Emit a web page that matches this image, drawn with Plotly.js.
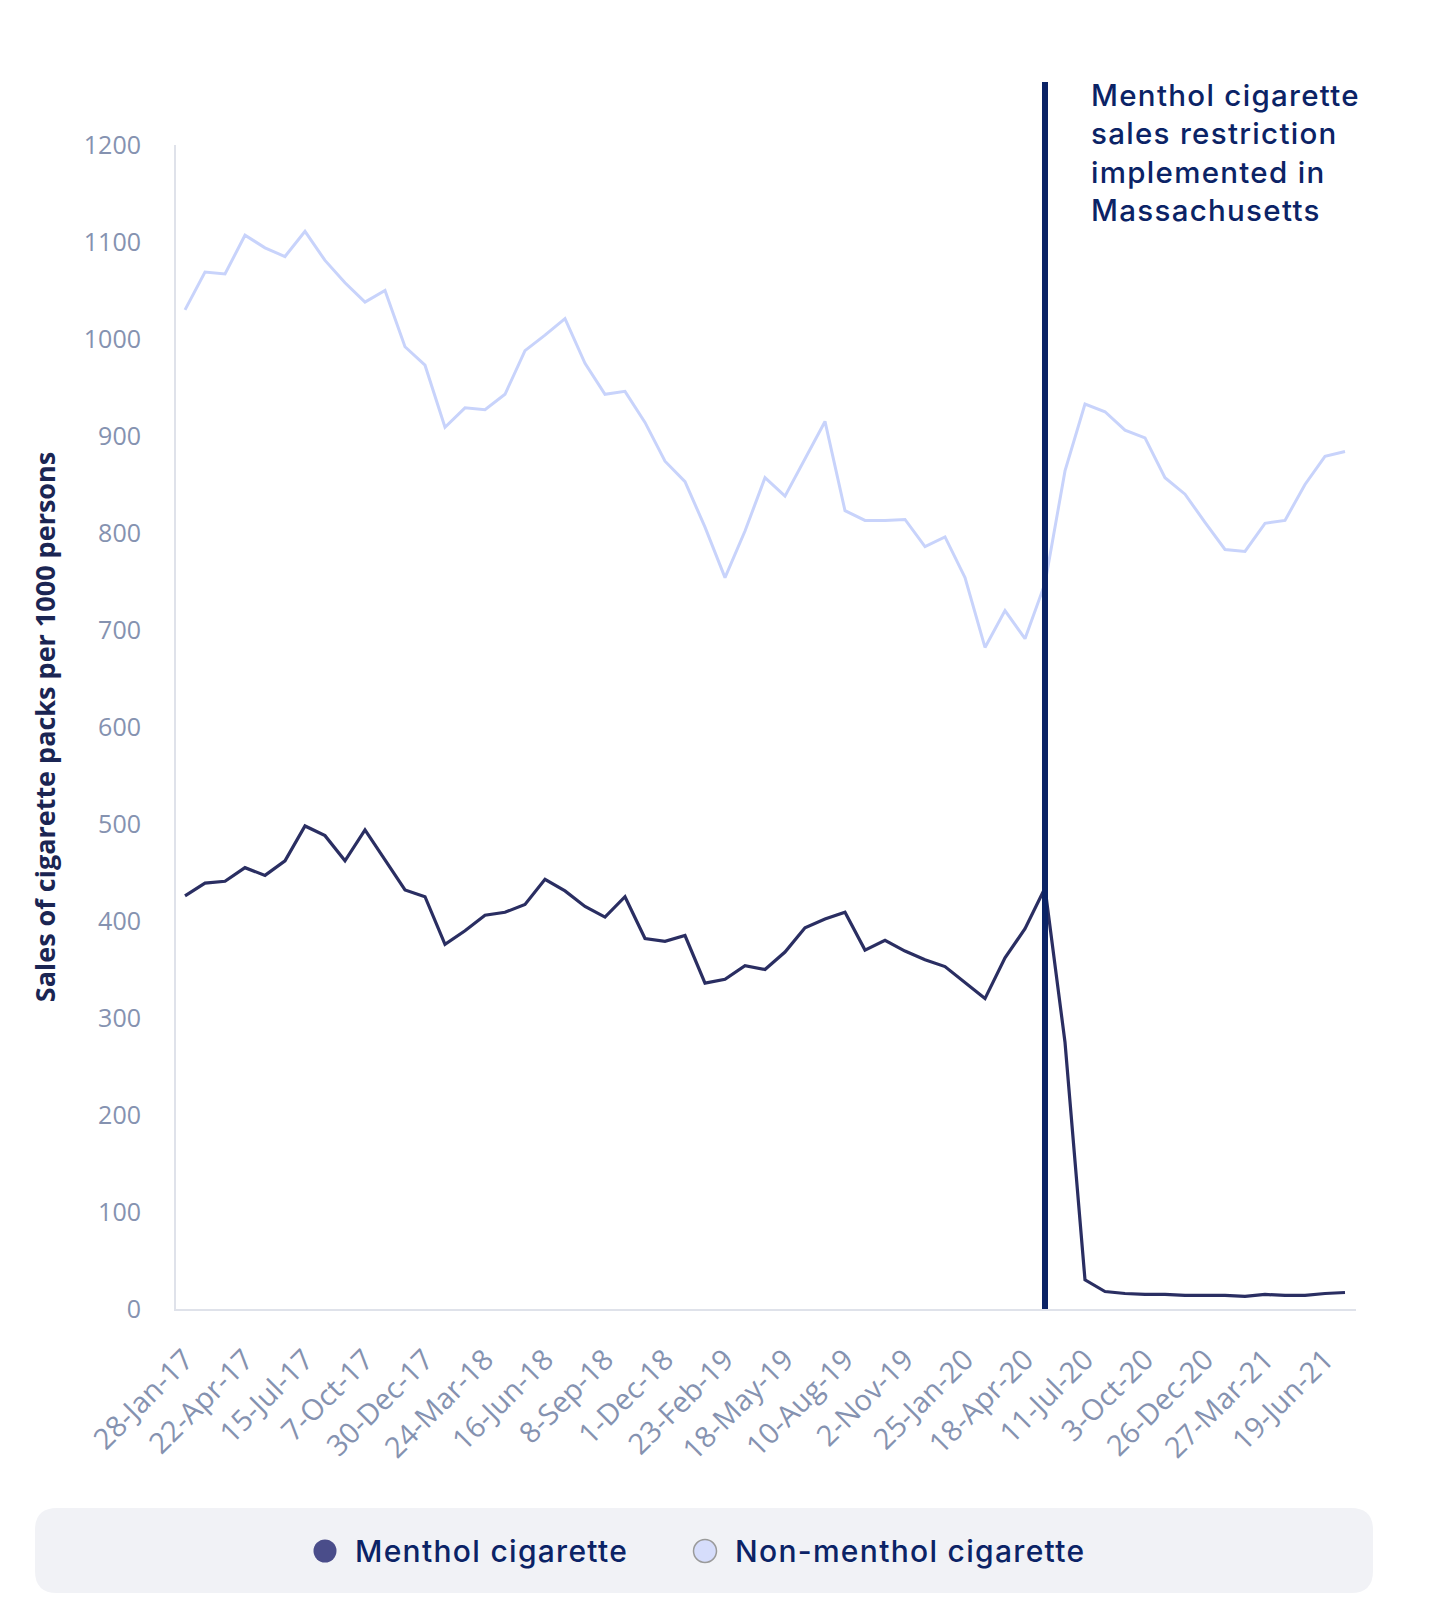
<!DOCTYPE html>
<html>
<head>
<meta charset="utf-8">
<script src="https://cdn.plot.ly/plotly-3.0.1.min.js"></script>
<style>
  html, body { margin: 0; padding: 0; background: #ffffff; }
  #chart { width: 1454px; height: 1614px; }
</style>
</head>
<body>
<div id="chart"></div>
<script>
// four-week periods, one point each
const weeks = [
    '28-Jan-17', '25-Feb-17', '25-Mar-17', '22-Apr-17', '20-May-17', '17-Jun-17',
    '15-Jul-17', '12-Aug-17', '9-Sep-17', '7-Oct-17', '4-Nov-17', '2-Dec-17',
    '30-Dec-17', '27-Jan-18', '24-Feb-18', '24-Mar-18', '21-Apr-18', '19-May-18',
    '16-Jun-18', '14-Jul-18', '11-Aug-18', '8-Sep-18', '6-Oct-18', '3-Nov-18',
    '1-Dec-18', '29-Dec-18', '26-Jan-19', '23-Feb-19', '23-Mar-19', '20-Apr-19',
    '18-May-19', '15-Jun-19', '13-Jul-19', '10-Aug-19', '7-Sep-19', '5-Oct-19',
    '2-Nov-19', '30-Nov-19', '28-Dec-19', '25-Jan-20', '22-Feb-20', '21-Mar-20',
    '18-Apr-20', '16-May-20', '13-Jun-20', '11-Jul-20', '8-Aug-20', '5-Sep-20',
    '3-Oct-20', '31-Oct-20', '28-Nov-20', '26-Dec-20', '30-Jan-21', '27-Feb-21',
    '27-Mar-21', '24-Apr-21', '22-May-21', '19-Jun-21', '17-Jul-21'
];

const tick_labels = [
    '28-Jan-17', '22-Apr-17', '15-Jul-17', '7-Oct-17', '30-Dec-17', '24-Mar-18',
    '16-Jun-18', '8-Sep-18', '1-Dec-18', '23-Feb-19', '18-May-19', '10-Aug-19',
    '2-Nov-19', '25-Jan-20', '18-Apr-20', '11-Jul-20', '3-Oct-20', '26-Dec-20',
    '27-Mar-21', '19-Jun-21'
];

const menthol = [
    426, 439, 441, 455, 447, 462, 498, 488, 462, 494, 463, 432,
    425, 376, 390, 406, 409, 417, 443, 431, 415, 404, 425, 382,
    379, 385, 336, 340, 354, 350, 368, 393, 402, 409, 370, 380,
    369, 360, 353, 337, 320, 362, 392, 434, 275, 30, 18, 16,
    15, 15, 14, 14, 14, 13, 15, 14, 14, 16, 17
];

const non_menthol = [
    1030, 1069, 1067, 1107, 1094, 1085, 1111, 1081, 1058, 1038, 1050, 992,
    973, 909, 929, 927, 943, 988, 1004, 1021, 975, 943, 946, 914,
    874, 853, 806, 754, 802, 857, 838, 876, 915, 823, 813, 813,
    814, 786, 796, 754, 682, 720, 691, 748, 864, 933, 925, 906,
    898, 857, 840, 811, 783, 781, 810, 813, 850, 879, 884
];

const series_names = ['Menthol cigarette', 'Non-menthol cigarette'];
const y_ticks = [0, 100, 200, 300, 400, 500, 600, 700, 800, 900, 1000, 1100, 1200];
const y_title = 'Sales of cigarette packs per 1000 persons';
const restriction_week = '16-May-20';
const restriction_note = 'Menthol cigarette<br>sales restriction<br>implemented in<br>Massachusetts';

const NAVY = '#0b2366';
const MENTHOL_COLOR = '#2a2e62';
const NON_MENTHOL_COLOR = '#c8d3fb';
const TICK_COLOR = '#8592b0';
const AXIS_COLOR = '#dfe2ea';

const W = 1454;
const H = 1614;
const margin = {l: 176, r: 98, t: 145, b: 305, pad: 0};
const plot_w = W - margin.l - margin.r;
const plot_h = H - margin.t - margin.b;

// page pixels -> paper fractions, for the pieces placed outside the plot area
function px_x(x) {
    return (x - margin.l) / plot_w;
}
function px_y(y) {
    return (H - margin.b - y) / plot_h;
}

// the label font is wider than Inter, so open the letters up a little
function spaced(text) {
    return text.split('<br>').map((t) => `<span style="letter-spacing:1.3px">${t}</span>`).join('<br>');
}

function rounded_box(x0, y0, x1, y1, r) {
    const X = px_x, Y = px_y;
    return `M ${X(x0 + r)} ${Y(y0)} L ${X(x1 - r)} ${Y(y0)} Q ${X(x1)} ${Y(y0)} ${X(x1)} ${Y(y0 + r)}` +
        ` L ${X(x1)} ${Y(y1 - r)} Q ${X(x1)} ${Y(y1)} ${X(x1 - r)} ${Y(y1)}` +
        ` L ${X(x0 + r)} ${Y(y1)} Q ${X(x0)} ${Y(y1)} ${X(x0)} ${Y(y1 - r)}` +
        ` L ${X(x0)} ${Y(y0 + r)} Q ${X(x0)} ${Y(y0)} ${X(x0 + r)} ${Y(y0)} Z`;
}

function legend_dot(cx, cy, fill, outline) {
    return {
        type: 'circle', layer: 'above',
        xref: 'paper', yref: 'paper',
        xsizemode: 'pixel', ysizemode: 'pixel',
        xanchor: px_x(cx), yanchor: px_y(cy),
        x0: -11.5, x1: 11.5, y0: -11.5, y1: 11.5,
        fillcolor: fill,
        line: {color: outline, width: outline === fill ? 0 : 1.5},
    };
}

function legend_text(x, y, text) {
    return {
        xref: 'paper', yref: 'paper',
        x: px_x(x), y: px_y(y),
        xanchor: 'left', yanchor: 'middle',
        showarrow: false, align: 'left',
        text: spaced(text),
        font: {family: 'Inter, Roboto, sans-serif', size: 30, weight: 500, color: NAVY},
    };
}

function sales_chart(id) {
    const trace_non_menthol = {
        x: weeks,
        y: non_menthol,
        name: series_names[1],
        type: 'scatter',
        mode: 'lines',
        line: {color: NON_MENTHOL_COLOR, width: 3},
        hoverinfo: 'x+y+name',
    };
    const trace_menthol = {
        x: weeks,
        y: menthol,
        name: series_names[0],
        type: 'scatter',
        mode: 'lines',
        line: {color: MENTHOL_COLOR, width: 3.2},
        hoverinfo: 'x+y+name',
    };

    const tick_font = {family: '"Open Sans", "Noto Sans", sans-serif', size: 25, color: TICK_COLOR};
    const line_at = weeks.indexOf(restriction_week);

    const layout = {
        width: W,
        height: H,
        margin: margin,
        paper_bgcolor: '#ffffff',
        plot_bgcolor: '#ffffff',
        showlegend: false,
        xaxis: {
            type: 'category',
            range: [-0.45, weeks.length - 0.45],
            tickmode: 'array',
            tickvals: tick_labels,
            ticktext: tick_labels,
            tickangle: -45,
            tickfont: {...tick_font, size: 29},
            ticks: '',
            ticklabelstandoff: 20,
            showgrid: false,
            zeroline: false,
            showline: true,
            linecolor: AXIS_COLOR,
            linewidth: 2,
            fixedrange: true,
        },
        yaxis: {
            range: [0, 1200],
            tickmode: 'array',
            tickvals: y_ticks,
            tickfont: tick_font,
            ticks: '',
            ticklabelstandoff: 28,
            showgrid: false,
            zeroline: false,
            showline: true,
            linecolor: AXIS_COLOR,
            linewidth: 2,
            fixedrange: true,
            title: {
                text: y_title,
                standoff: 20,
                font: {family: '"Open Sans", "Noto Sans", sans-serif', size: 27, weight: 700, color: '#1b2553'},
            },
        },
        shapes: [
            {
                type: 'path', layer: 'below',
                xref: 'paper', yref: 'paper',
                path: rounded_box(35, 1508, 1373, 1593, 22),
                fillcolor: '#f1f2f6',
                line: {width: 0},
            },
            {
                type: 'line', layer: 'above',
                xref: 'x', yref: 'paper',
                x0: line_at, x1: line_at,
                y0: 0, y1: px_y(82),
                line: {color: NAVY, width: 6},
            },
            legend_dot(325, 1551, '#4a4d8a', '#4a4d8a'),
            legend_dot(705, 1551, '#d6ddfb', '#9a9a9a'),
        ],
        annotations: [
            {
                xref: 'paper', yref: 'paper',
                x: px_x(1089), y: px_y(75),
                xanchor: 'left', yanchor: 'top',
                align: 'left', showarrow: false,
                text: spaced(restriction_note),
                font: {family: 'Inter, Roboto, sans-serif', size: 29.5, weight: 500, color: NAVY},
            },
            legend_text(353, 1551, series_names[0]),
            legend_text(733, 1551, series_names[1]),
        ],
    };

    Plotly.newPlot(id, [trace_non_menthol, trace_menthol], layout, {displayModeBar: false, responsive: false});
}

sales_chart('chart');
</script>
</body>
</html>
